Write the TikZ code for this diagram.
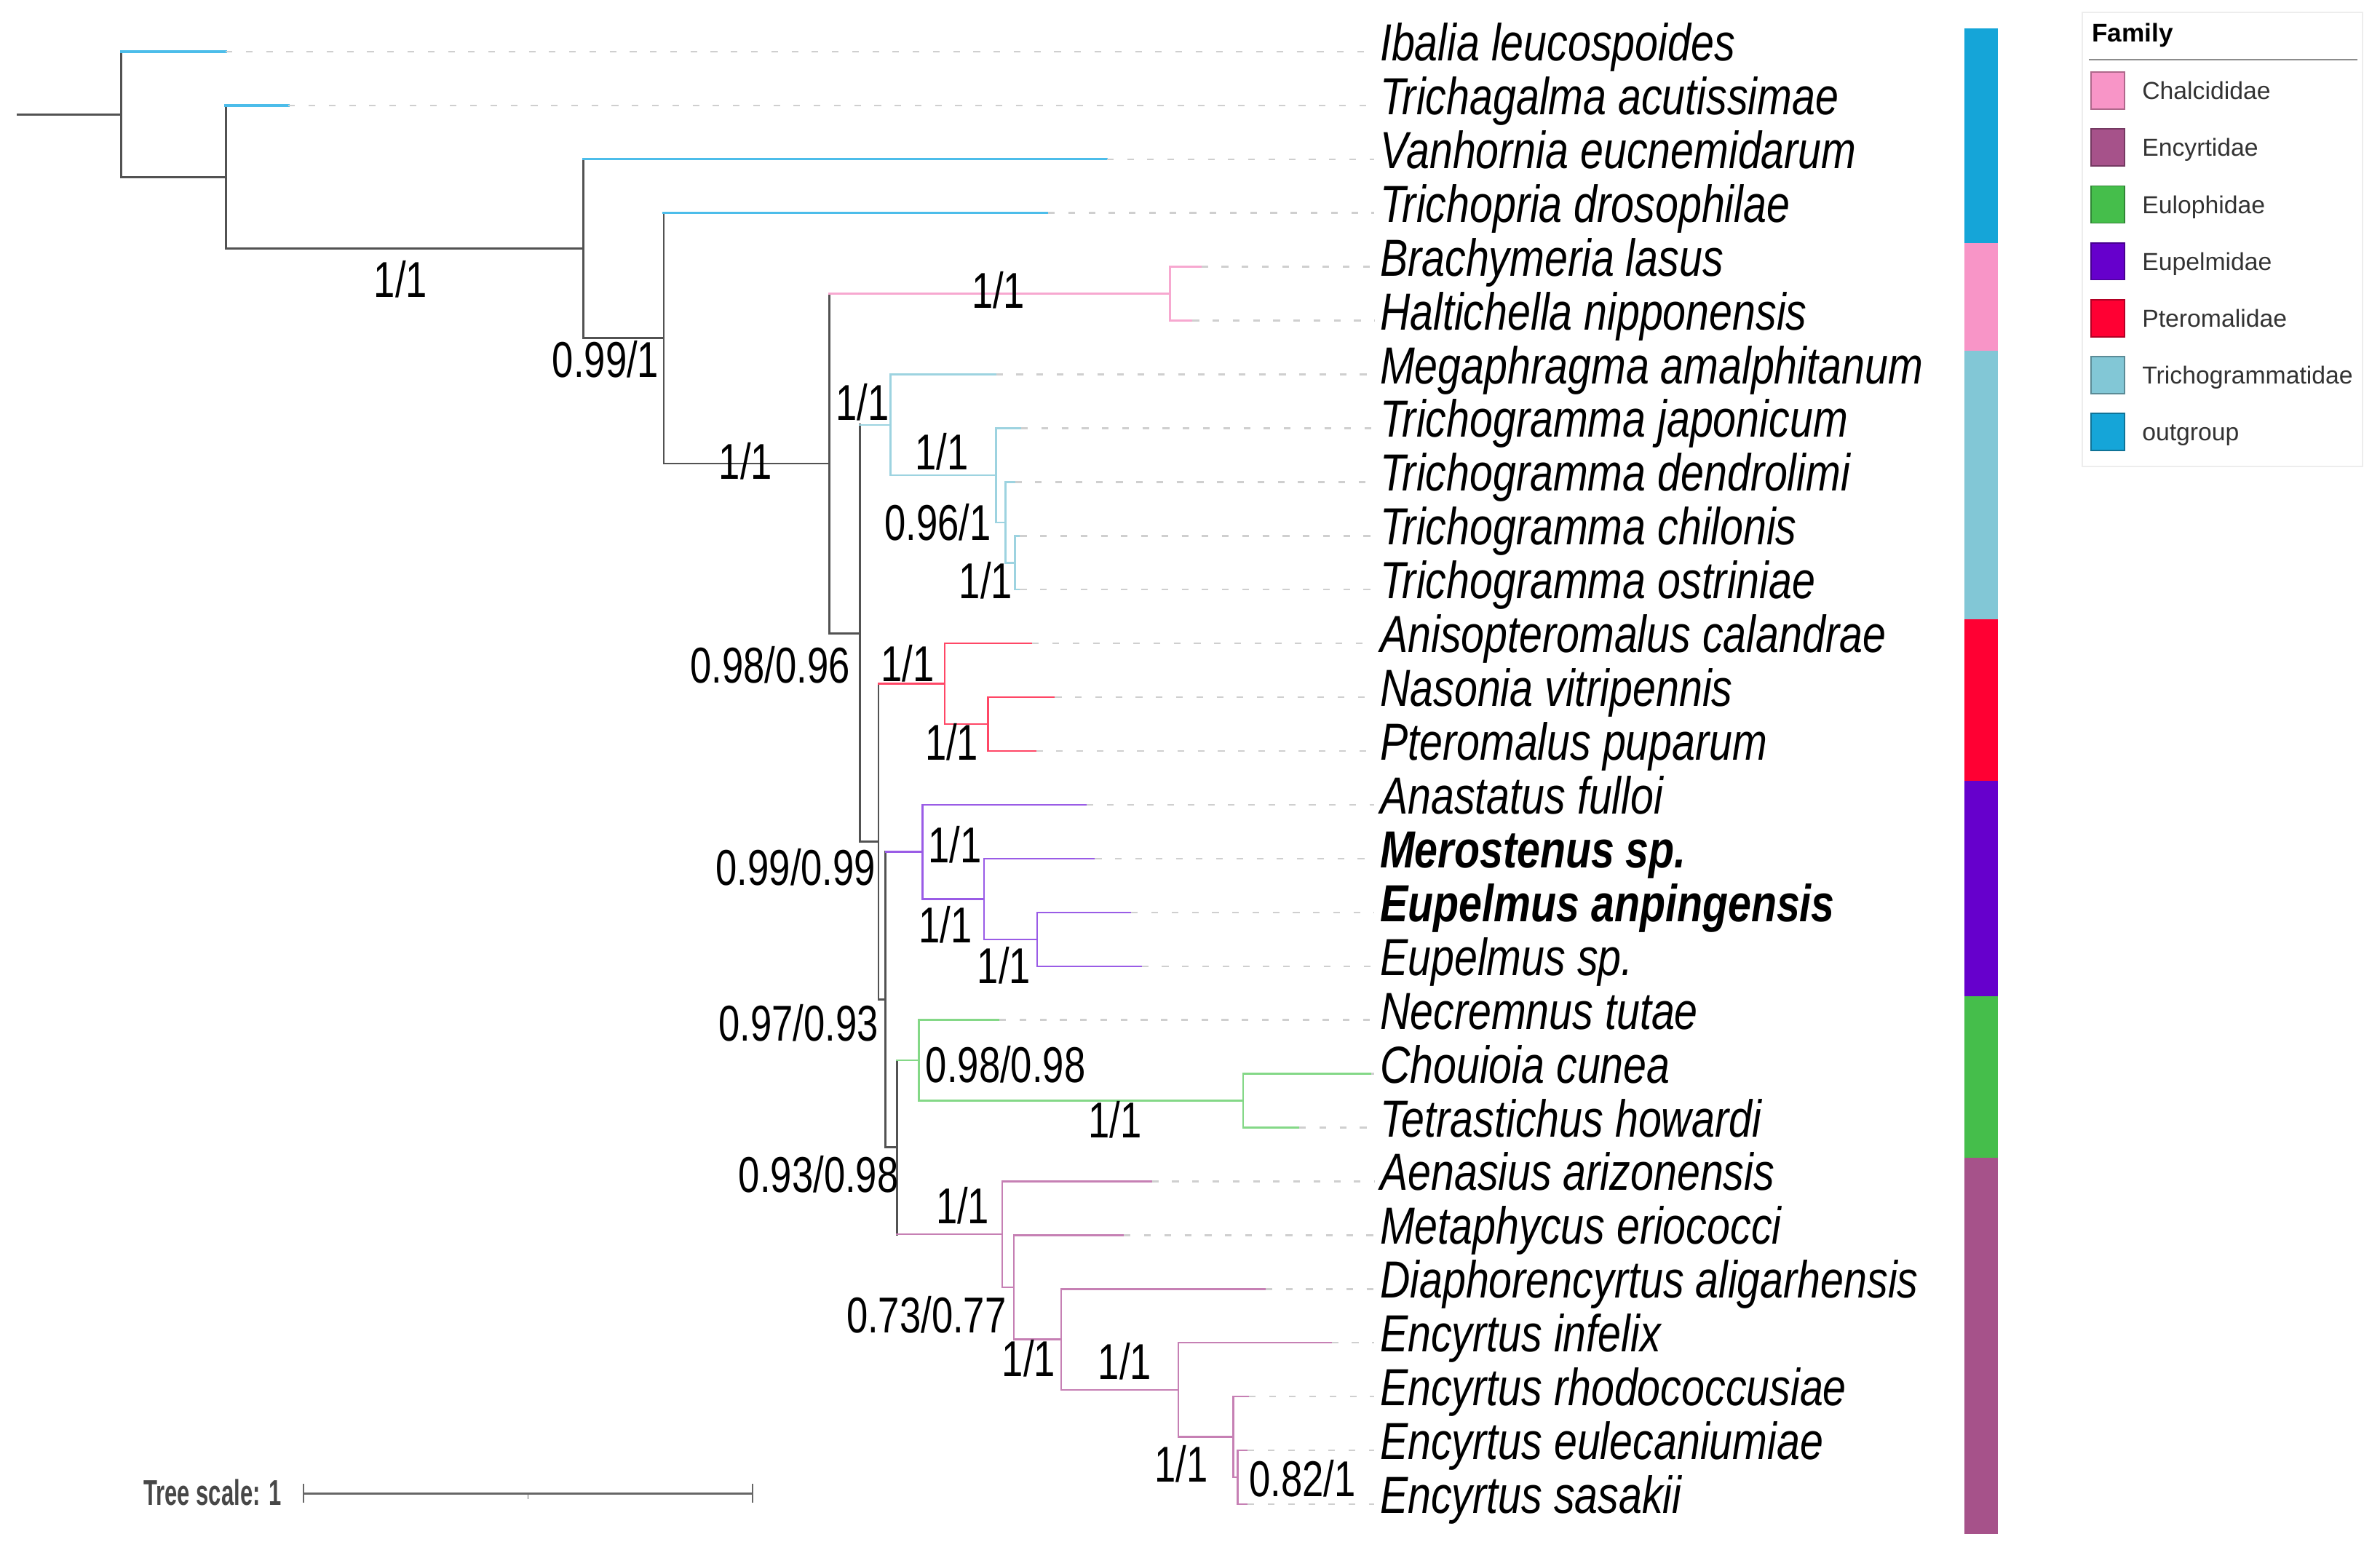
\documentclass[tikz,border=0pt]{standalone}
\usepackage{fontspec}
\setmainfont{Liberation Sans}
\newfontfamily\taxafont[FakeStretch=0.80]{Liberation Sans}
\newfontfamily\bootfont[FakeStretch=0.76]{Liberation Sans}
\newfontfamily\barfont[FakeStretch=0.63]{Liberation Sans}
\usepackage{tikz}

\definecolor{outgrp}{HTML}{15A5D8}
\definecolor{chalc}{HTML}{F895C7}
\definecolor{encyr}{HTML}{A6528A}
\definecolor{eulop}{HTML}{45BE4B}
\definecolor{eupel}{HTML}{6600CC}
\definecolor{ptero}{HTML}{FF0033}
\definecolor{trich}{HTML}{82C7D6}
% lighter tints for the branches
\definecolor{outgrpB}{HTML}{4CBDEA}
\definecolor{chalcB}{HTML}{F7A8D0}
\definecolor{encyrB}{HTML}{C680B4}
\definecolor{eulopB}{HTML}{84D887}
\definecolor{eupelB}{HTML}{9A5CE6}
\definecolor{pteroB}{HTML}{FF4766}
\definecolor{trichB}{HTML}{9DD3E0}

\begin{document}
\begin{tikzpicture}[
    x=0.20855mm, y=-0.20855mm,
    br/.style={draw=black!68, line width=0.8pt, line cap=rect},
    clade/.style={draw=#1, line width=0.7pt, line cap=rect},
    obr/.style={draw=outgrpB, line width=0.95pt, line cap=rect},
    leader/.style={draw=black!19, line width=0.7pt, dash pattern=on 2.6pt off 5.3pt},
    taxon/.style={anchor=base west, inner xsep=2pt, inner ysep=0pt, font=\taxafont\fontsize{20.4}{24}\selectfont\itshape},
    boot/.style={inner sep=0pt, font=\bootfont\fontsize{19.7}{22}\selectfont},
    legsq/.style={draw=#1!70!black, fill=#1, line width=0.5pt, minimum width=13pt, minimum height=14.5pt, inner sep=0pt},
    legtxt/.style={anchor=base west, inner sep=0pt, text=black!80, font=\fontsize{9.6}{11}\selectfont},
    legtitle/.style={anchor=base west, inner sep=0pt, font=\bfseries\fontsize{10}{12}\selectfont},
    legframe/.style={draw=black!7, line width=0.5pt},
    scalebar/.style={draw=black!60, line width=0.85pt},
    scaletxt/.style={anchor=base east, inner sep=0pt, text=black!72, font=\barfont\bfseries\fontsize{14}{16}\selectfont}
]
    \fill[white] (0,0) rectangle (1568,1021);
    \useasboundingbox (0,0) rectangle (1568,1021);

    % tips
    \coordinate (Tip1)  at (148.7,34.0);
    \coordinate (Tip2)  at (190.0,69.45);
    \coordinate (Tip3)  at (729.2,104.9);
    \coordinate (Tip4)  at (690.5,140.35);
    \coordinate (Tip5)  at (791.5,175.8);
    \coordinate (Tip6)  at (785.6,211.25);
    \coordinate (Tip7)  at (656.3,246.7);
    \coordinate (Tip8)  at (672.8,282.15);
    \coordinate (Tip9)  at (668.7,317.6);
    \coordinate (Tip10) at (672.0,353.05);
    \coordinate (Tip11) at (672.0,388.5);
    \coordinate (Tip12) at (680.1,423.95);
    \coordinate (Tip13) at (695.0,459.4);
    \coordinate (Tip14) at (682.6,494.85);
    \coordinate (Tip15) at (715.9,530.3);
    \coordinate (Tip16) at (721.4,565.75);
    \coordinate (Tip17) at (745.3,601.2);
    \coordinate (Tip18) at (752.2,636.65);
    \coordinate (Tip19) at (658.4,672.1);
    \coordinate (Tip20) at (903.4,707.55);
    \coordinate (Tip21) at (856.0,743.0);
    \coordinate (Tip22) at (758.9,778.45);
    \coordinate (Tip23) at (740.5,813.9);
    \coordinate (Tip24) at (833.8,849.35);
    \coordinate (Tip25) at (877.3,884.8);
    \coordinate (Tip26) at (822.7,920.25);
    \coordinate (Tip27) at (822.0,955.7);
    \coordinate (Tip28) at (822.0,991.15);

    % internal nodes
    \coordinate (Root) at (11.8,75.34);
    \coordinate (NA)   at (79.7,75.34);
    \coordinate (NB)   at (148.7,116.67);
    \coordinate (NC)   at (384.5,163.89);
    \coordinate (ND)   at (437.3,222.88);
    \coordinate (NE)   at (546.3,305.4);
    \coordinate (NF)   at (770.9,193.53);
    \coordinate (NG)   at (566.4,417.27);
    \coordinate (NH)   at (586.7,279.93);
    \coordinate (NI)   at (656.3,313.17);
    \coordinate (NJ)   at (662.4,344.19);
    \coordinate (NK)   at (668.7,370.78);
    \coordinate (NL)   at (578.8,554.61);
    \coordinate (NP)   at (622.3,450.54);
    \coordinate (NP2)  at (651.0,477.13);
    \coordinate (NM)   at (583.5,658.67);
    \coordinate (NU)   at (607.7,561.32);
    \coordinate (NU2)  at (648.2,592.34);
    \coordinate (NU3)  at (683.4,618.93);
    \coordinate (NN)   at (591.0,756.02);
    \coordinate (NV)   at (605.3,698.69);
    \coordinate (NV2)  at (818.9,725.28);
    \coordinate (NW)   at (660.3,813.35);
    \coordinate (NW2)  at (668.0,848.24);
    \coordinate (NW3)  at (699.2,882.59);
    \coordinate (NW4)  at (776.2,915.82);
    \coordinate (NW5)  at (812.6,946.84);
    \coordinate (NW6)  at (815.3,973.43);

    % backbone
    \draw[br] (Root) -- (NA);
    \draw[br] (NA |- Tip1) -- (NA) |- (NB);
    \draw[obr] (NA |- Tip1) -- (Tip1);
    \draw[br] (NB |- Tip2) -- (NB) |- (NC);
    \draw[obr] (NB |- Tip2) -- (Tip2);
    \draw[br] (NC |- Tip3) -- (NC) |- (ND);
    \draw[obr] (NC |- Tip3) -- (Tip3);
    \draw[br] (ND |- Tip4) -- (ND) |- (NE);
    \draw[obr] (ND |- Tip4) -- (Tip4);
    \draw[br] (NE |- NF) -- (NE) |- (NG);
    \draw[clade=chalcB] (NE |- NF) -- (NF);
    \draw[br] (NG |- NH) -- (NG) |- (NL);
    \draw[clade=trichB] (NG |- NH) -- (NH);
    \draw[br] (NL |- NP) -- (NL) |- (NM);
    \draw[clade=pteroB] (NL |- NP) -- (NP);
    \draw[br] (NM |- NU) -- (NM) |- (NN);
    \draw[clade=eupelB] (NM |- NU) -- (NU);
    \draw[br] (NN |- NV) -- (NN |- NW);
    \draw[clade=eulopB] (NN |- NV) -- (NV);
    \draw[clade=encyrB] (NN |- NW) -- (NW);

    % clades
    \draw[clade=chalcB] (Tip5) -| (NF) |- (Tip6);
    \draw[clade=trichB] (Tip7) -| (NH) |- (NI);
    \draw[clade=trichB] (Tip8) -| (NI) |- (NJ);
    \draw[clade=trichB] (Tip9) -| (NJ) |- (NK);
    \draw[clade=trichB] (Tip10) -| (NK) |- (Tip11);
    \draw[clade=pteroB] (Tip12) -| (NP) |- (NP2);
    \draw[clade=pteroB] (Tip13) -| (NP2) |- (Tip14);
    \draw[clade=eupelB] (Tip15) -| (NU) |- (NU2);
    \draw[clade=eupelB] (Tip16) -| (NU2) |- (NU3);
    \draw[clade=eupelB] (Tip17) -| (NU3) |- (Tip18);
    \draw[clade=eulopB] (Tip19) -| (NV) |- (NV2);
    \draw[clade=eulopB] (Tip20) -| (NV2) |- (Tip21);
    \draw[clade=encyrB] (Tip22) -| (NW) |- (NW2);
    \draw[clade=encyrB] (Tip23) -| (NW2) |- (NW3);
    \draw[clade=encyrB] (Tip24) -| (NW3) |- (NW4);
    \draw[clade=encyrB] (Tip25) -| (NW4) |- (NW5);
    \draw[clade=encyrB] (Tip26) -| (NW5) |- (NW6);
    \draw[clade=encyrB] (Tip27) -| (NW6) |- (Tip28);

    % taxon labels
    \node[taxon] (Lab1)  at (905.5,40.0)   {Ibalia leucospoides};
    \node[taxon] (Lab2)  at (905.5,75.45)  {Trichagalma acutissimae};
    \node[taxon] (Lab3)  at (905.5,110.9)  {Vanhornia eucnemidarum};
    \node[taxon] (Lab4)  at (905.5,146.35) {Trichopria drosophilae};
    \node[taxon] (Lab5)  at (905.5,181.8)  {Brachymeria lasus};
    \node[taxon] (Lab6)  at (905.5,217.25) {Haltichella nipponensis};
    \node[taxon] (Lab7)  at (905.5,252.7)  {Megaphragma amalphitanum};
    \node[taxon] (Lab8)  at (905.5,288.15) {Trichogramma japonicum};
    \node[taxon] (Lab9)  at (905.5,323.6)  {Trichogramma dendrolimi};
    \node[taxon] (Lab10) at (905.5,359.05) {Trichogramma chilonis};
    \node[taxon] (Lab11) at (905.5,394.5)  {Trichogramma ostriniae};
    \node[taxon] (Lab12) at (905.5,429.95) {Anisopteromalus calandrae};
    \node[taxon] (Lab13) at (905.5,465.4)  {Nasonia vitripennis};
    \node[taxon] (Lab14) at (905.5,500.85) {Pteromalus puparum};
    \node[taxon] (Lab15) at (905.5,536.3)  {Anastatus fulloi};
    \node[taxon] (Lab16) at (905.5,571.75) {\textbf{Merostenus sp.}};
    \node[taxon] (Lab17) at (905.5,607.2)  {\textbf{Eupelmus anpingensis}};
    \node[taxon] (Lab18) at (905.5,642.65) {Eupelmus sp.};
    \node[taxon] (Lab19) at (905.5,678.1)  {Necremnus tutae};
    \node[taxon] (Lab20) at (905.5,713.55) {Chouioia cunea};
    \node[taxon] (Lab21) at (905.5,749.0)  {Tetrastichus howardi};
    \node[taxon] (Lab22) at (905.5,784.45) {Aenasius arizonensis};
    \node[taxon] (Lab23) at (905.5,819.9)  {Metaphycus eriococci};
    \node[taxon] (Lab24) at (905.5,855.35) {Diaphorencyrtus aligarhensis};
    \node[taxon] (Lab25) at (905.5,890.8)  {Encyrtus infelix};
    \node[taxon] (Lab26) at (905.5,926.25) {Encyrtus rhodococcusiae};
    \node[taxon] (Lab27) at (905.5,961.7)  {Encyrtus eulecaniumiae};
    \node[taxon] (Lab28) at (905.5,997.15) {Encyrtus sasakii};

    % dashed leaders
    \foreach \i in {1,...,28}
        \draw[leader] (Tip\i) -- (Tip\i -| Lab\i.west);

    % support values
    \node[boot] (S1)  at (264.0,184.1) {1/1};
    \node[boot] (S2)  at (399.0,236.6) {0.99/1};
    \node[boot] (S3)  at (491.2,303.7) {1/1};
    \node[boot] (S4)  at (657.7,191.3) {1/1};
    \node[boot] (S5)  at (568.2,265.1) {1/1};
    \node[boot] (S6)  at (620.6,297.8) {1/1};
    \node[boot] (S7)  at (617.8,344.1) {0.96/1};
    \node[boot] (S8)  at (649.5,382.6) {1/1};
    \node[boot] (S9)  at (507.3,438.3) {0.98/0.96};
    \node[boot] (S10) at (598.0,437.3) {1/1};
    \node[boot] (S11) at (627.0,489.0) {1/1};
    \node[boot] (S12) at (524.3,571.5) {0.99/0.99};
    \node[boot] (S13) at (629.1,556.6) {1/1};
    \node[boot] (S14) at (622.9,609.3) {1/1};
    \node[boot] (S15) at (661.4,636.1) {1/1};
    \node[boot] (S16) at (526.0,674.0) {0.97/0.93};
    \node[boot] (S17) at (662.5,701.5) {0.98/0.98};
    \node[boot] (S18) at (734.6,737.9) {1/1};
    \node[boot] (S19) at (539.3,773.6) {0.93/0.98};
    \node[boot] (S20) at (634.2,794.5) {1/1};
    \node[boot] (S21) at (610.3,866.5) {0.73/0.77};
    \node[boot] (S22) at (677.7,895.0) {1/1};
    \node[boot] (S23) at (741.0,897.0) {1/1};
    \node[boot] (S24) at (778.2,964.8) {1/1};
    \node[boot] (S25) at (858.0,974.2) {0.82/1};

    % family colour strip
    \fill[outgrp] (1294,18.8)  rectangle (1316.2,160.1);
    \fill[chalc]  (1294,160.1) rectangle (1316.2,231.0);
    \fill[trich]  (1294,231.0) rectangle (1316.2,408.2);
    \fill[ptero]  (1294,408.2) rectangle (1316.2,514.6);
    \fill[eupel]  (1294,514.6) rectangle (1316.2,656.4);
    \fill[eulop]  (1294,656.4) rectangle (1316.2,762.7);
    \fill[encyr]  (1294,762.7) rectangle (1316.2,1010.9);

    % legend
    \draw[legframe] (1372,8.1) rectangle (1556.4,307.2);
    \node[legtitle] (LegHead) at (1378,27.6) {Family};
    \draw[draw=black!45, line width=0.6pt] (1376,39.2) -- (1553,39.2);
    \node[legsq=chalc]  (SqChal)  at (1388.7,59.7)  {};
    \node[legsq=encyr]  (SqEncy)  at (1388.7,97.2)  {};
    \node[legsq=eulop]  (SqEulo)  at (1388.7,134.7) {};
    \node[legsq=eupel]  (SqEupe)  at (1388.7,172.2) {};
    \node[legsq=ptero]  (SqPter)  at (1388.7,209.7) {};
    \node[legsq=trich]  (SqTric)  at (1388.7,247.2) {};
    \node[legsq=outgrp] (SqOutg)  at (1388.7,284.7) {};
    \node[legtxt] (TxChal) at (1411,65.5)  {Chalcididae};
    \node[legtxt] (TxEncy) at (1411,103.0) {Encyrtidae};
    \node[legtxt] (TxEulo) at (1411,140.5) {Eulophidae};
    \node[legtxt] (TxEupe) at (1411,178.0) {Eupelmidae};
    \node[legtxt] (TxPter) at (1411,215.5) {Pteromalidae};
    \node[legtxt] (TxTric) at (1411,253.0) {Trichogrammatidae};
    \node[legtxt] (TxOutg) at (1411,290.5) {outgroup};

    % tree scale
    \coordinate (Sc0) at (200.0,984.0);
    \coordinate (ScM) at (347.9,984.0);
    \coordinate (Sc1) at (495.8,984.0);
    \node[scaletxt] (ScLab) at (185.6,991.8) {Tree scale: 1};
    \draw[scalebar] (Sc0) -- (Sc1);
    \draw[scalebar, line width=0.6pt] (Sc0) ++(0,-6.2) -- ++(0,12.4);
    \draw[scalebar, line width=0.6pt] (Sc1) ++(0,-6.2) -- ++(0,12.4);
    \draw[scalebar, line width=0.5pt] (ScM) -- ++(0,4);
\end{tikzpicture}
\end{document}
